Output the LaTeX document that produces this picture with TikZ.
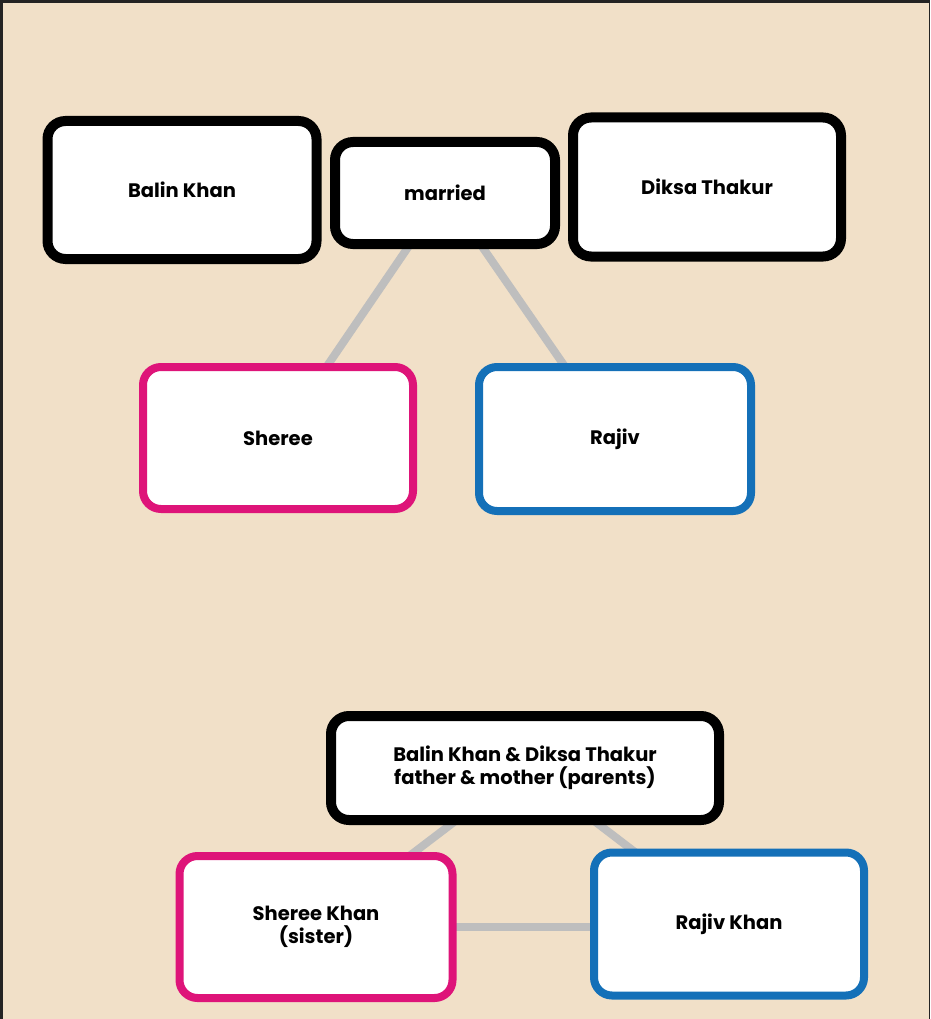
\documentclass[tikz,border=0pt]{standalone}
\usepackage{fontspec}
\setmainfont{Poppins}
\usetikzlibrary{backgrounds}
\definecolor{paper}{HTML}{F1E0C8}
\definecolor{frame}{HTML}{232323}
\definecolor{girl}{HTML}{DE1479}
\definecolor{boy}{HTML}{1470B8}
\definecolor{link}{HTML}{BEBEBE}
\begin{document}
\begin{tikzpicture}[x=1pt,y=-1pt,
  box/.style={draw=black,line width=10pt,fill=white,rounded corners=18pt,align=center,
    font=\fontsize{19.5}{23}\selectfont\bfseries,inner sep=0pt},
  girlbox/.style={box,draw=girl,line width=8pt},
  boybox/.style={box,draw=boy,line width=8pt},
  tie/.style={draw=link,line width=8pt}]
\useasboundingbox (0,0) rectangle (930,1019);
% top: the marriage
\node[box,minimum width=269pt,minimum height=138pt] (balin) at (182,190) {Balin Khan};
\node[box,minimum width=220pt,minimum height=102pt] (married) at (445,193) {married};
\node[box,minimum width=268pt,minimum height=139pt] (diksa) at (707,187) {Diksa Thakur};
\node[girlbox,minimum width=270pt,minimum height=142pt] (sheree) at (278,438) {Sheree};
\node[boybox,minimum width=272pt,minimum height=144pt] (rajiv) at (615,439) {Rajiv};
% bottom: the family
\node[box,minimum width=388pt,minimum height=104pt] (parents) at (525,768) {Balin Khan \& Diksa Thakur\\father \& mother (parents)};
\node[girlbox,minimum width=273pt,minimum height=142pt] (shereek) at (316,927) {Sheree Khan\\(sister)};
\node[boybox,minimum width=270pt,minimum height=143pt] (rajivk) at (729,924) {Rajiv Khan};
\begin{scope}[on background layer]
\fill[frame] (0,0) rectangle (930,1019);
\fill[paper] (3,3) rectangle (929,1019);
\draw[tie] (married.center) -- (sheree.center);
\draw[tie] (married.center) -- (rajiv.center);
\draw[tie] (parents.center) -- (shereek.center);
\draw[tie] (parents.center) -- (rajivk.center);
\draw[tie] (shereek.center) -- (shereek.center -| rajivk.center);
\end{scope}
\end{tikzpicture}
\end{document}
